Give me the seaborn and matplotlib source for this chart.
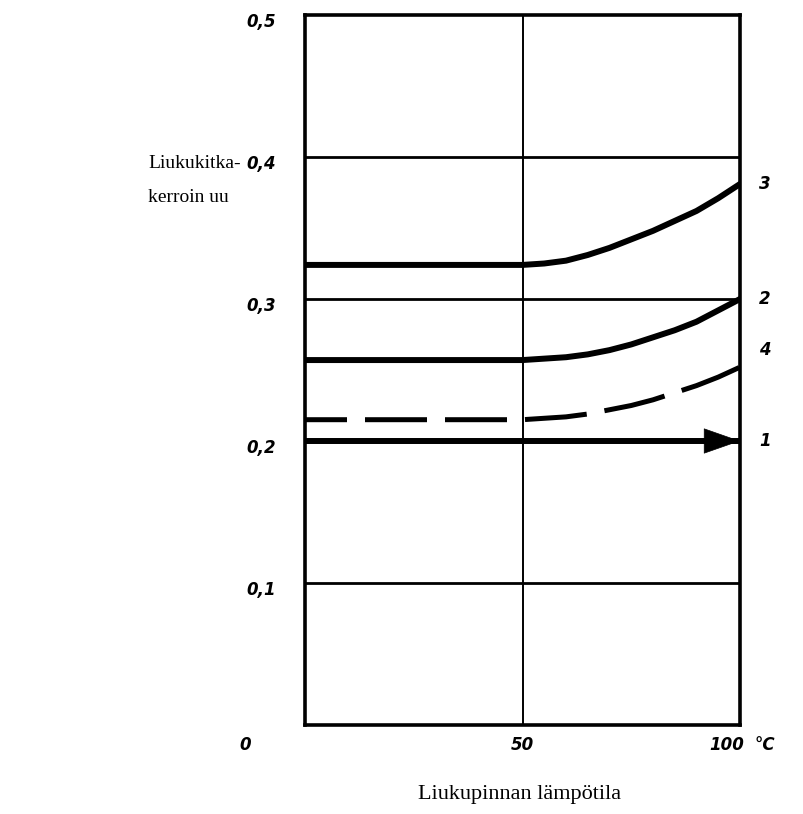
import matplotlib
matplotlib.use("Agg")
import matplotlib.pyplot as plt
from matplotlib.transforms import ScaledTranslation
import seaborn as sns
import pandas as pd

# Sliding temperature (°C) and friction coefficient curves
temps = [0, 50, 55, 60, 65, 70, 75, 80, 85, 90, 95, 100]
curve_3 = [0.324, 0.324, 0.325, 0.327, 0.331, 0.336, 0.342, 0.348, 0.355, 0.362, 0.371, 0.381]
curve_2 = [0.257, 0.257, 0.258, 0.259, 0.261, 0.264, 0.268, 0.273, 0.278, 0.284, 0.292, 0.300]
curve_4 = [0.215, 0.215, 0.216, 0.217, 0.219, 0.222, 0.225, 0.229, 0.234, 0.239, 0.245, 0.252]
temps_1 = [0, 100]
curve_1 = [0.200, 0.200]

y_ticks = [0.1, 0.2, 0.3, 0.4, 0.5]
y_ticklabels = ["0,1", "0,2", "0,3", "0,4", "0,5"]
x_ticks = [50, 100]
x_ticklabels = ["50", "100"]
curve_names = ["3", "2", "4", "1"]

sns.set_theme(style="white")
plt.rcParams["font.family"] = ["DejaVu Sans"]

fig = plt.figure(figsize=(8.04, 8.14), dpi=100)
ax = fig.add_axes([305 / 804, 1 - 725 / 814, 435 / 804, 710 / 814])
ax.set_xlim(0, 100)
ax.set_ylim(0, 0.5)

# reference grid
for v in [0.1, 0.2, 0.3, 0.4]:
    ax.axhline(v, color="black", lw=2.0, zorder=1)
ax.axvline(50, color="black", lw=1.4, zorder=1)

df = pd.DataFrame({"t": temps, "c3": curve_3, "c2": curve_2, "c4": curve_4})
sns.lineplot(data=df, x="t", y="c3", ax=ax, color="black", lw=4.3, zorder=3)
sns.lineplot(data=df, x="t", y="c2", ax=ax, color="black", lw=4.3, zorder=3)
sns.lineplot(data=df, x="t", y="c4", ax=ax, color="black", lw=3.6, zorder=3,
             dashes=False, linestyle=(4, (12.4, 3.6)))
df1 = pd.DataFrame({"t": temps_1, "c1": curve_1})
sns.lineplot(data=df1, x="t", y="c1", ax=ax, color="black", lw=4.3, zorder=3)

# arrow head on curve 1
ax.annotate("", xy=(temps_1[-1], curve_1[-1]), xytext=(temps_1[-1] - 10, curve_1[-1]),
            arrowprops=dict(arrowstyle="-|>,head_length=1.0,head_width=0.35",
                            mutation_scale=25, color="black", lw=0.5,
                            shrinkA=0, shrinkB=0),
            annotation_clip=False, zorder=4)

for s in ax.spines.values():
    s.set_visible(True)
    s.set_color("black")
    s.set_linewidth(2.6)

ax.set_xlabel("")
ax.set_ylabel("")
ax.set_yticks(y_ticks)
ax.set_yticklabels(y_ticklabels)
ax.set_xticks(x_ticks)
ax.set_xticklabels(x_ticklabels)
ax.tick_params(axis="both", length=0, labelsize=12, labelcolor="black")
ax.tick_params(axis="y", pad=21)
ax.tick_params(axis="x", pad=8)
for lab in ax.get_yticklabels() + ax.get_xticklabels():
    lab.set_fontstyle("italic")
    lab.set_fontweight("bold")
for lab in ax.get_yticklabels():
    lab.set_transform(lab.get_transform() + ScaledTranslation(0, -5 / 100, fig.dpi_scale_trans))
xl = ax.get_xticklabels()
xl[1].set_transform(xl[1].get_transform() + ScaledTranslation(-13 / 100, 0, fig.dpi_scale_trans))

hand = dict(fontsize=12, fontstyle="italic", fontweight="bold", color="black")
fig.text(245 / 804, 1 - 745 / 814, "0", ha="center", va="center", **hand)
fig.text(765 / 804, 1 - 745 / 814, "°C", ha="center", va="center", **hand)

# curve numbers at the right end
label_y = [curve_3[-1], curve_2[-1], curve_4[-1] + 0.012, curve_1[-1]]
for name, yv in zip(curve_names, label_y):
    ax.annotate(name, xy=(100, yv), xytext=(18, 0), textcoords="offset points",
                ha="center", va="center", annotation_clip=False, **hand)

serif = dict(family="Liberation Serif", fontsize=14, color="black")
fig.text(148 / 804, 1 - 163 / 814, "Liukukitka-", ha="left", va="center", **serif)
fig.text(148 / 804, 1 - 198 / 814, "kerroin uu", ha="left", va="center", **serif)
fig.text(520 / 804, 1 - 795 / 814, "Liukupinnan lämpötila", ha="center", va="center",
         family="Liberation Serif", fontsize=16, color="black")

fig.savefig("out.png", dpi=100, facecolor="white")
